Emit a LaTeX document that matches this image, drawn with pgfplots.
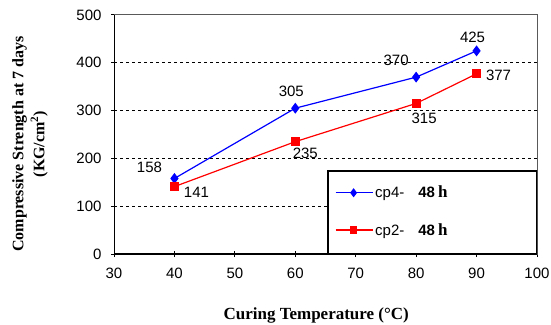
\documentclass[border=0pt]{standalone}
\usepackage{pgfplots}
\usepackage{pgfplotstable}
\pgfplotsset{compat=1.18}
\usepackage{fontspec}
\setmainfont{Liberation Serif}
\setsansfont{Liberation Sans}

\pgfplotstableread{
x y dx dy
40 158 -25 11
60 305 -4 17
80 370 -20 17
90 425 -4 14
}\cpfourtab

\pgfplotstableread{
x y dx dy
40 141 22 -6
60 235 10 -12
80 315 8 -15
90 377 22 -2
}\cptwotab

\begin{document}
\begin{tikzpicture}
\useasboundingbox (0,0) rectangle (551pt,324pt);
\begin{axis}[
  at={(114pt,70pt)}, anchor=south west,
  scale only axis, width=423pt, height=239pt,
  xmin=30, xmax=100, ymin=0, ymax=500,
  xtick={30,40,...,100}, ytick={0,100,...,500},
  xtick pos=left, ytick pos=left,
  tick align=center, major tick length=6pt,
  tick style={black, line width=1pt},
  axis line style={black!65, line width=1pt},
  ticklabel style={font=\sffamily\fontsize{15}{15}\selectfont},
  /pgf/number format/assume math mode=true,
  yticklabel style={xshift=-6pt},
  xticklabel style={yshift=-7pt},
  extra y ticks={100,200,300,400},
  extra y tick labels={},
  extra y tick style={grid=major, major grid style={black, line width=1.1pt, dash pattern=on 2.5pt off 3.5pt}},
  xlabel={Curing Temperature (\textdegree C)},
  xlabel style={at={([yshift=-65pt]axis description cs:0.478,0)}, anchor=base, font=\rmfamily\bfseries\fontsize{17}{17}\selectfont},
  ylabel={Compressive Strength at 7 days\\(KG/cm\textsuperscript{2})},
  ylabel style={at={([xshift=-84pt]axis description cs:0,0.46)}, anchor=center, align=center, font=\rmfamily\bfseries\fontsize{16}{21}\selectfont},
  legend style={draw=none, fill=none, at={(axis description cs:0.522,0.289)}, anchor=north west,
    inner sep=0pt, row sep=22pt, column sep=1pt,
    font=\sffamily\fontsize{15}{15}\selectfont, nodes={inner sep=1pt}},
  legend cell align=left,
  legend image code/.code={\draw[#1, mark repeat=2, mark phase=2, mark options={scale=0.8}] plot coordinates {(0pt,0pt) (18pt,0pt) (37pt,0pt)};},
]
\addplot[blue, line width=1.2pt, mark=diamond*, mark size=4.5pt, mark options={solid},
  point meta=explicit, nodes near coords,
  visualization depends on={\thisrow{dx} \as \dx},
  visualization depends on={\thisrow{dy} \as \dy},
  nodes near coords style={font=\sffamily\fontsize{15}{15}\selectfont, black, anchor=center, inner sep=0pt, xshift=\dx pt, yshift=\dy pt}]
  table[x=x, y=y, meta=y] {\cpfourtab};
\addlegendentry{cp4-\hspace{14pt}\textbf{48}\hspace{3pt}{\rmfamily\bfseries\fontsize{17}{17}\selectfont h}}
\addplot[red, line width=1.2pt, mark=square*, mark size=4pt, mark options={solid},
  point meta=explicit, nodes near coords,
  visualization depends on={\thisrow{dx} \as \dx},
  visualization depends on={\thisrow{dy} \as \dy},
  nodes near coords style={font=\sffamily\fontsize{15}{15}\selectfont, black, anchor=center, inner sep=0pt, xshift=\dx pt, yshift=\dy pt}]
  table[x=x, y=y, meta=y] {\cptwotab};
\addlegendentry{cp2-\hspace{14pt}\textbf{48}\hspace{3pt}{\rmfamily\bfseries\fontsize{17}{17}\selectfont h}}
\draw[black, line width=1.2pt, fill=white] (axis cs:65.4,0) rectangle (axis cs:100,173.6);
\draw[black, line width=1.4pt] (rel axis cs:0,1) -- (rel axis cs:0,0) -- (rel axis cs:1,0);
\end{axis}
\end{tikzpicture}
\end{document}
